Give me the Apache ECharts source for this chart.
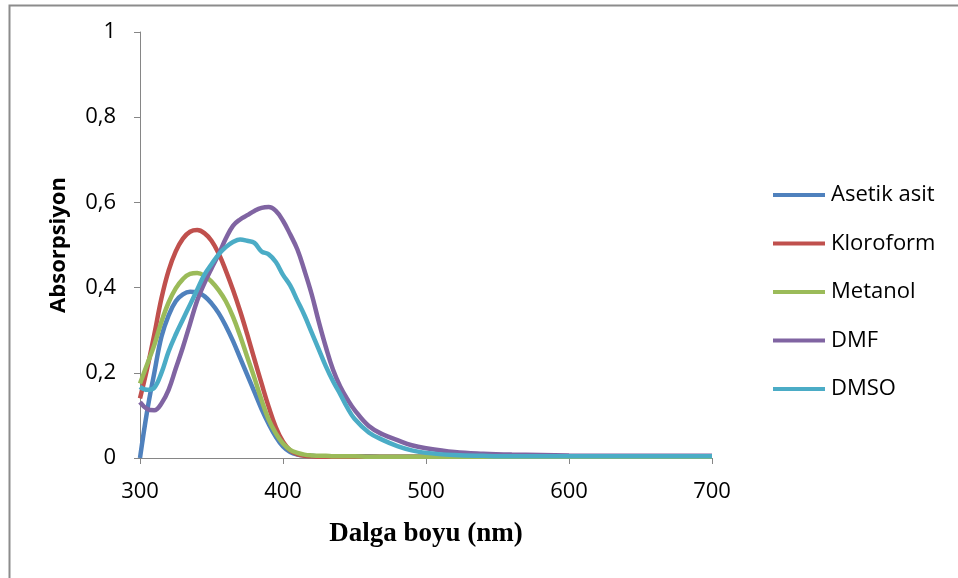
<!DOCTYPE html>
<html>
<head>
<meta charset="utf-8">
<script src="https://cdn.jsdelivr.net/npm/echarts@6/dist/echarts.min.js"></script>
<style>html,body{margin:0;padding:0;background:#fff}#c{width:958px;height:578px}</style>
</head>
<body>
<div id="c"></div>
<script>
var wavelengths = [300,305,310,315,320,325,330,335,340,345,350,355,360,365,370,375,380,385,390,395,400,405,410,415,420,425,430,435,440,445,450,460,470,480,490,500,520,540,560,600,650,700];
var asetikAsit = [0.0,0.11,0.2,0.285,0.335,0.368,0.384,0.39,0.389,0.38,0.363,0.34,0.31,0.275,0.235,0.195,0.155,0.115,0.08,0.05,0.027,0.014,0.008,0.006,0.005,0.004,0.004,0.004,0.004,0.004,0.004,0.004,0.003,0.003,0.003,0.003,0.003,0.003,0.003,0.003,0.003,0.003];
var kloroform = [0.14,0.21,0.29,0.375,0.44,0.485,0.515,0.531,0.535,0.528,0.51,0.48,0.44,0.395,0.345,0.29,0.232,0.175,0.12,0.072,0.038,0.018,0.009,0.005,0.004,0.003,0.003,0.003,0.003,0.003,0.003,0.003,0.003,0.003,0.003,0.003,0.003,0.003,0.003,0.003,0.003,0.003];
var metanol = [0.175,0.22,0.265,0.32,0.365,0.398,0.42,0.432,0.434,0.428,0.414,0.394,0.368,0.332,0.287,0.237,0.188,0.136,0.09,0.058,0.034,0.019,0.012,0.008,0.006,0.005,0.005,0.004,0.004,0.004,0.004,0.003,0.003,0.003,0.003,0.003,0.003,0.003,0.003,0.003,0.003,0.003];
var dmf = [0.131,0.115,0.112,0.128,0.16,0.21,0.26,0.315,0.37,0.41,0.445,0.478,0.515,0.545,0.56,0.57,0.58,0.587,0.589,0.58,0.557,0.525,0.49,0.44,0.385,0.32,0.26,0.207,0.168,0.138,0.113,0.075,0.055,0.042,0.03,0.023,0.014,0.01,0.008,0.006,0.005,0.005];
var dmso = [0.167,0.16,0.165,0.2,0.25,0.29,0.325,0.36,0.395,0.43,0.455,0.478,0.495,0.507,0.513,0.51,0.505,0.485,0.478,0.46,0.43,0.405,0.37,0.335,0.295,0.255,0.215,0.18,0.15,0.118,0.092,0.06,0.042,0.028,0.018,0.012,0.007,0.005,0.004,0.004,0.004,0.004];
var seriesNames = ['Asetik asit','Kloroform','Metanol','DMF','DMSO'];
var seriesValues = [asetikAsit, kloroform, metanol, dmf, dmso];
var colors = ['#4F81BD','#C0504D','#9BBB59','#8064A2','#4BACC6'];

function pairs(vals){ return wavelengths.map(function(w,i){ return [w, vals[i]]; }); }

var chart = echarts.init(document.getElementById('c'));
chart.setOption({
  animation: false,
  color: colors,
  graphic: [{
    type: 'rect', left: 7, top: 3, z: -10, silent: true,
    shape: { width: 960, height: 580 },
    style: { fill: 'none', stroke: '#8c8c8c', lineWidth: 2 }
  }],
  grid: { left: 140, right: 246, top: 32, bottom: 120 },
  legend: {
    orient: 'vertical', left: 773, top: 184, padding: 0,
    icon: 'rect', itemWidth: 52, itemHeight: 4, itemGap: 26.5,
    textStyle: { fontFamily: 'Open Sans', fontSize: 22, color: '#000', lineHeight: 20, padding: [0,0,0,1] },
    data: seriesNames
  },
  xAxis: {
    type: 'value', min: 300, max: 700, interval: 100,
    name: 'Dalga boyu (nm)', nameLocation: 'middle', nameGap: 63,
    nameTextStyle: { fontFamily: 'Liberation Serif', fontWeight: 'bold', fontSize: 27, color: '#000' },
    axisLine: { lineStyle: { color: '#868686', width: 1 } },
    axisTick: { show: true, length: 6, lineStyle: { color: '#868686' } },
    axisLabel: { fontFamily: 'Open Sans', fontSize: 22, color: '#000', margin: 23 },
    splitLine: { show: false }
  },
  yAxis: {
    type: 'value', min: 0, max: 1, interval: 0.2,
    name: 'Absorpsiyon', nameLocation: 'middle', nameGap: 70,
    nameTextStyle: { fontFamily: 'Open Sans', fontWeight: 'bold', fontSize: 22, color: '#000' },
    axisLine: { show: true, lineStyle: { color: '#868686', width: 1 } },
    axisTick: { show: true, length: 6, lineStyle: { color: '#868686' } },
    axisLabel: { fontFamily: 'Open Sans', fontSize: 22, color: '#000', margin: 24,
      formatter: function(v){ return String(Math.round(v*10)/10).replace('.', ','); } },
    splitLine: { show: false }
  },
  series: seriesNames.map(function(n, i){
    return {
      name: n, type: 'line', data: pairs(seriesValues[i]),
      smooth: 0.4, showSymbol: false, symbol: 'none',
      lineStyle: { width: 4.5, color: colors[i] },
      itemStyle: { color: colors[i] }
    };
  })
});
</script>
</body>
</html>
